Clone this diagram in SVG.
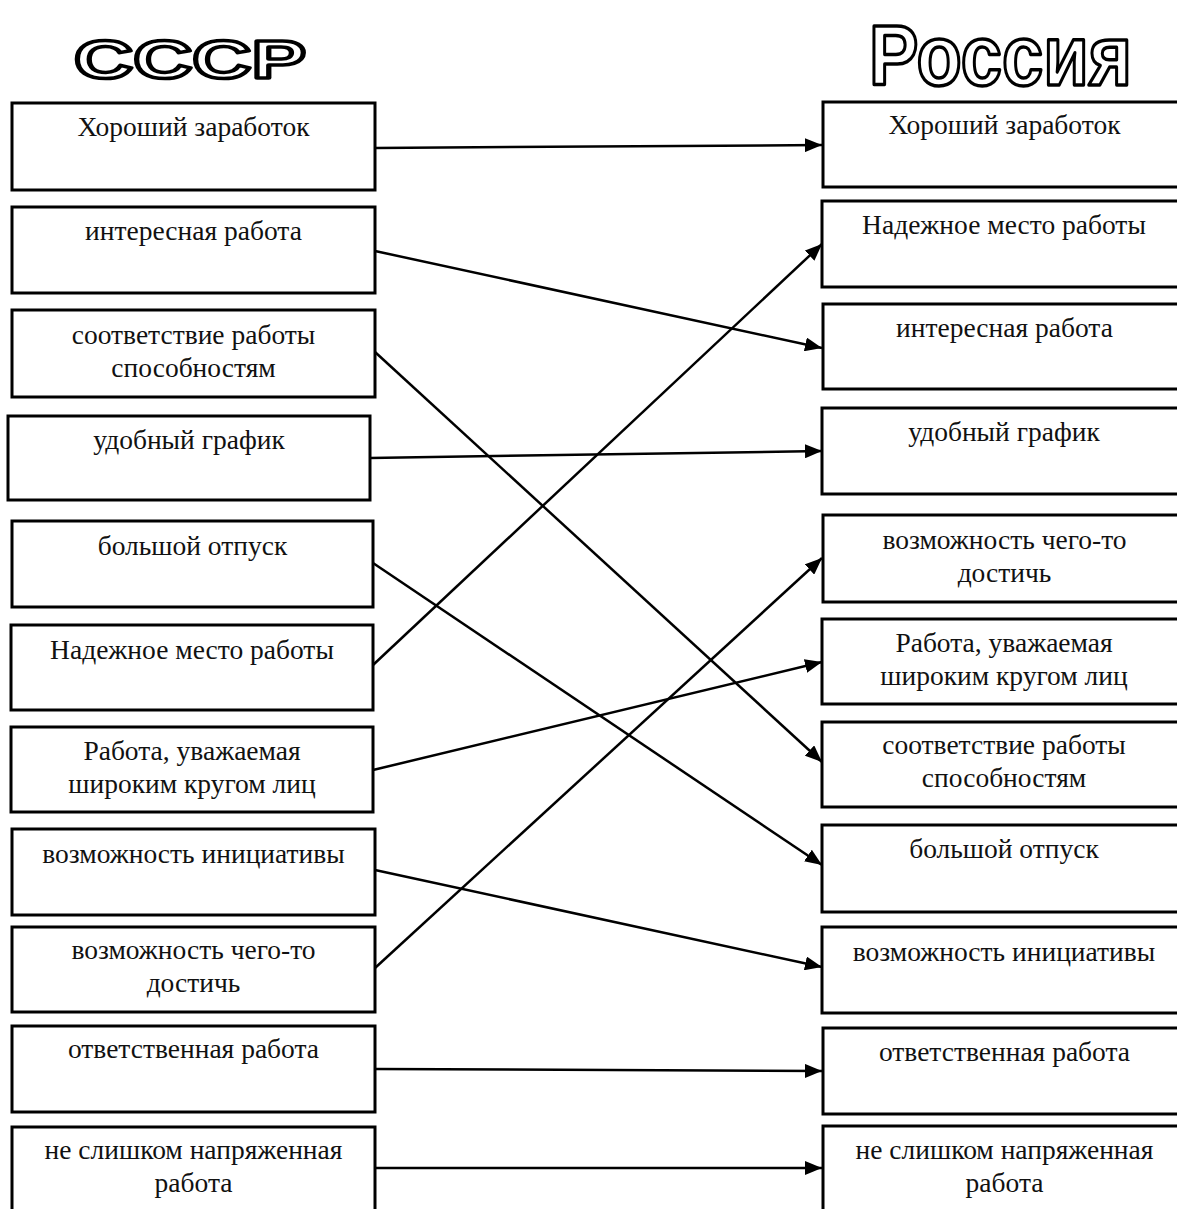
<svg xmlns="http://www.w3.org/2000/svg" width="1177" height="1209" viewBox="0 0 1177 1209">
  <style>
    .box { fill: #fff; stroke: #000; stroke-width: 3; }
    .lbl { font-family: "Liberation Serif", "Times New Roman", serif; font-size: 27.5px; fill: #111; text-anchor: middle; }
    .title { font-family: "Liberation Sans", Arial, sans-serif; font-weight: bold; fill: #fff; stroke: #000; stroke-linejoin: round; }
    .link { fill: none; stroke: #000; stroke-width: 2.5; marker-end: url(#arrow); }
  </style>
  <defs>
    <marker id="arrow" markerUnits="userSpaceOnUse" markerWidth="18" markerHeight="14" refX="17" refY="7" orient="auto">
      <path d="M0,0 L17,7 L0,14 Z" fill="#000"/>
    </marker>
  </defs>
  <rect width="1177" height="1209" fill="#fff"/>

  <!-- column headings -->
  <text class="title" x="74" y="78" font-size="54" stroke-width="3.5" textLength="232" lengthAdjust="spacingAndGlyphs">СССР</text>
  <text class="title" x="869" y="85" font-size="86" stroke-width="3.5" textLength="263" lengthAdjust="spacingAndGlyphs">Россия</text>

  <!-- left column: USSR -->
  <g id="l1"><rect class="box" x="12" y="103" width="363" height="87"/><text class="lbl" x="193.5" y="136">Хороший заработок</text></g>
  <g id="l2"><rect class="box" x="12" y="207" width="363" height="86"/><text class="lbl" x="193.5" y="240">интересная работа</text></g>
  <g id="l3"><rect class="box" x="12" y="310" width="363" height="87"/><text class="lbl" x="193.5" y="344">соответствие работы</text><text class="lbl" x="193.5" y="377">способностям</text></g>
  <g id="l4"><rect class="box" x="8" y="416" width="362" height="84"/><text class="lbl" x="189" y="449">удобный график</text></g>
  <g id="l5"><rect class="box" x="12" y="521" width="361" height="86"/><text class="lbl" x="192.5" y="555">большой отпуск</text></g>
  <g id="l6"><rect class="box" x="11" y="625" width="362" height="85"/><text class="lbl" x="192" y="659">Надежное место работы</text></g>
  <g id="l7"><rect class="box" x="11" y="727" width="362" height="85"/><text class="lbl" x="192" y="760">Работа, уважаемая</text><text class="lbl" x="192" y="793">широким кругом лиц</text></g>
  <g id="l8"><rect class="box" x="12" y="829" width="363" height="86"/><text class="lbl" x="193.5" y="863">возможность инициативы</text></g>
  <g id="l9"><rect class="box" x="12" y="927" width="363" height="85"/><text class="lbl" x="193.5" y="959">возможность чего-то</text><text class="lbl" x="193.5" y="992">достичь</text></g>
  <g id="l10"><rect class="box" x="12" y="1026" width="363" height="86"/><text class="lbl" x="193.5" y="1058">ответственная работа</text></g>
  <g id="l11"><rect class="box" x="12" y="1127" width="363" height="90"/><text class="lbl" x="193.5" y="1159">не слишком напряженная</text><text class="lbl" x="193.5" y="1192">работа</text></g>

  <!-- right column: Russia -->
  <g id="r1"><rect class="box" x="823" y="102" width="363" height="85"/><text class="lbl" x="1004.5" y="134">Хороший заработок</text></g>
  <g id="r2"><rect class="box" x="822" y="201" width="363" height="86"/><text class="lbl" x="1004" y="234">Надежное место работы</text></g>
  <g id="r3"><rect class="box" x="823" y="304" width="363" height="85"/><text class="lbl" x="1004.5" y="337">интересная работа</text></g>
  <g id="r4"><rect class="box" x="822" y="408" width="363" height="86"/><text class="lbl" x="1004" y="441">удобный график</text></g>
  <g id="r5"><rect class="box" x="823" y="515" width="363" height="87"/><text class="lbl" x="1004.5" y="549">возможность чего-то</text><text class="lbl" x="1004.5" y="582">достичь</text></g>
  <g id="r6"><rect class="box" x="822" y="619" width="363" height="85"/><text class="lbl" x="1004" y="652">Работа, уважаемая</text><text class="lbl" x="1004" y="685">широким кругом лиц</text></g>
  <g id="r7"><rect class="box" x="822" y="722" width="363" height="85"/><text class="lbl" x="1004" y="754">соответствие работы</text><text class="lbl" x="1004" y="787">способностям</text></g>
  <g id="r8"><rect class="box" x="822" y="825" width="363" height="87"/><text class="lbl" x="1004" y="858">большой отпуск</text></g>
  <g id="r9"><rect class="box" x="822" y="927" width="363" height="86"/><text class="lbl" x="1004" y="961">возможность инициативы</text></g>
  <g id="r10"><rect class="box" x="823" y="1028" width="363" height="86"/><text class="lbl" x="1004.5" y="1061">ответственная работа</text></g>
  <g id="r11"><rect class="box" x="823" y="1126" width="363" height="90"/><text class="lbl" x="1004.5" y="1159">не слишком напряженная</text><text class="lbl" x="1004.5" y="1192">работа</text></g>

  <!-- connectors -->
  <g id="links">
    <line class="link" x1="375" y1="148" x2="822" y2="145"/>
    <line class="link" x1="375" y1="251" x2="822" y2="348"/>
    <line class="link" x1="375" y1="352" x2="822" y2="762"/>
    <line class="link" x1="370" y1="458" x2="822" y2="451"/>
    <line class="link" x1="373" y1="563" x2="822" y2="865"/>
    <line class="link" x1="373" y1="665" x2="822" y2="244"/>
    <line class="link" x1="373" y1="770" x2="822" y2="662"/>
    <line class="link" x1="375" y1="870" x2="822" y2="967"/>
    <line class="link" x1="375" y1="968" x2="822" y2="558"/>
    <line class="link" x1="375" y1="1069" x2="822" y2="1071"/>
    <line class="link" x1="375" y1="1168" x2="822" y2="1168"/>
  </g>
</svg>
